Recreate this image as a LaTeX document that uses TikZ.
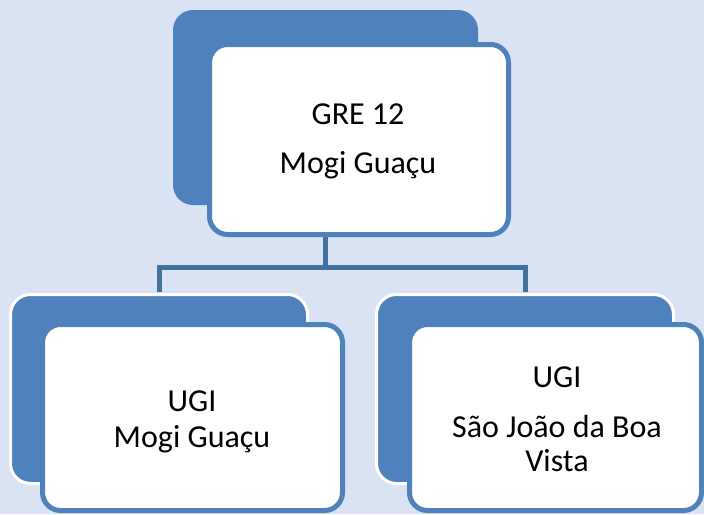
\documentclass[tikz,border=0pt]{standalone}
\usepackage{fontspec}
\setmainfont{Carlito}
\definecolor{bg}{HTML}{DAE3F3}
\definecolor{accent}{HTML}{4F81BD}
\definecolor{connector}{HTML}{41719C}
\begin{document}
\begin{tikzpicture}[x=1pt,y=-1pt,
  backbox/.style={rectangle, fill=accent, rounded corners=20pt, inner sep=0pt},
  backboxo/.style={backbox, draw=white, line width=3pt},
  frontbox/.style={rectangle, fill=white, draw=accent, line width=5pt, rounded corners=18pt, inner sep=0pt},
  linkline/.style={draw=connector, line width=5pt},
  lbl/.style={font=\fontsize{32}{38}\selectfont, anchor=base, inner sep=0pt, text=black}]
\useasboundingbox[fill=bg] (0,0) rectangle (704,514);
% back boxes
\node[backbox, minimum width=305pt, minimum height=195pt] (tb) at (325.5,107.5) {};
\coordinate (junction) at (325.5,267);
\node[backboxo, minimum width=297pt, minimum height=189pt] (bl) at (159,389) {};
\node[backboxo, minimum width=297pt, minimum height=189pt] (br) at (525,389) {};
% connectors
\draw[linkline] (tb.south) -- (junction);
\draw[linkline] ([yshift=1.5pt]bl.north) |- (junction) -| ([yshift=1.5pt]br.north);
% front boxes
\node[frontbox, minimum width=299pt, minimum height=190pt] (tw) at (359,139.5) {};
\node[frontbox, minimum width=300pt, minimum height=186pt] (blw) at (192.5,417.5) {};
\node[frontbox, minimum width=292pt, minimum height=186pt] (brw) at (555.5,417.5) {};
% texts
\node[lbl] (t1) at (358,124) {GRE 12};
\node[lbl] (t2) at (358,173) {Mogi Guaçu};
\node[lbl] (l1) at (192,411) {UGI};
\node[lbl] (l2) at (192,447) {Mogi Guaçu};
\node[lbl] (r1) at (557,387) {UGI};
\node[lbl] (r2) at (557,437) {São João da Boa};
\node[lbl] (r3) at (557,471) {Vista};
\end{tikzpicture}
\end{document}
